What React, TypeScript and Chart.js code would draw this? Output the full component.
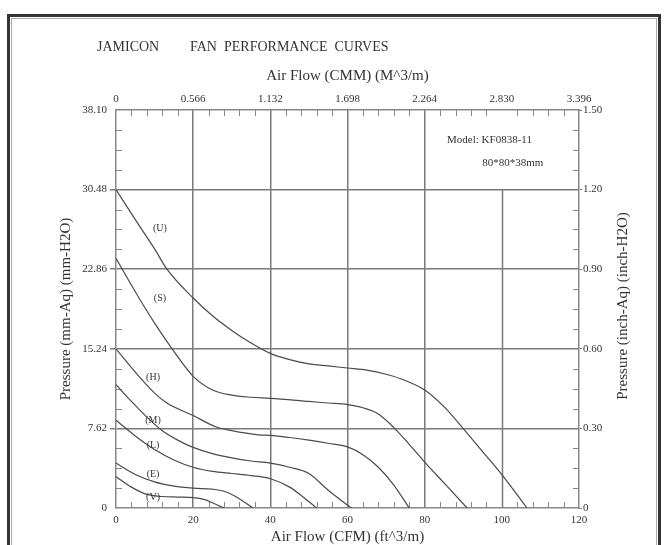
import React, { useEffect, useRef } from "react";
import { Chart, registerables } from "chart.js";
Chart.register(...registerables);

const FONT = '"Liberation Serif", "Times New Roman", serif';

// Axis tick labels
const cfmTicks = [0, 20, 40, 60, 80, 100, 120];
const cmmTicks = [0, 0.566, 1.132, 1.698, 2.264, 2.83, 3.396];
const mmTicks = [0, 7.62, 15.24, 22.86, 30.48, 38.1];
const inchTicks = [0, 0.3, 0.6, 0.9, 1.2, 1.5];

// Curves: airflow (CFM) and pressure (mm-H2O)
const flowU = [0, 5, 10, 13.2, 20, 25, 30, 35, 40, 45, 50, 55, 60, 65, 70, 75, 80, 85, 90, 95, 100, 106.5];
const presU = [30.48, 27.6, 24.8, 22.86, 20.1, 18.4, 17.0, 15.8, 14.8, 14.2, 13.8, 13.6, 13.4, 13.2, 12.8, 12.2, 11.3, 9.7, 7.6, 5.4, 3.2, 0];
const flowS = [0, 5, 10, 15, 20, 25, 30, 35, 40, 50, 55, 60, 64, 68, 72, 76, 80, 85, 91];
const presS = [23.9, 20.7, 17.7, 15.0, 12.6, 11.3, 10.8, 10.6, 10.5, 10.2, 10.05, 9.9, 9.6, 9.0, 7.7, 6.1, 4.4, 2.4, 0];
const flowH = [0, 5, 10, 13.2, 20, 26, 30, 37, 40, 45, 50, 55, 60, 64, 68, 72, 76];
const presH = [15.24, 13.0, 11.0, 10.05, 8.85, 7.75, 7.4, 7.0, 6.95, 6.75, 6.5, 6.2, 5.85, 5.1, 3.9, 2.2, 0];
const flowM = [0, 4, 8, 12, 16, 20, 25, 30, 35, 40, 45, 50, 55, 61];
const presM = [11.8, 10.2, 8.7, 7.4, 6.5, 5.8, 5.2, 4.8, 4.5, 4.3, 3.9, 3.3, 1.7, 0];
const flowL = [0, 5, 10, 15, 20, 25, 30, 35, 40, 45, 48, 52];
const presL = [8.4, 6.9, 5.6, 4.6, 3.9, 3.5, 3.3, 3.1, 2.8, 2.0, 1.2, 0];
const flowE = [0, 5, 10, 15, 20, 25, 28, 31, 35.5];
const presE = [4.3, 3.2, 2.5, 2.1, 1.9, 1.8, 1.6, 1.1, 0];
const flowV = [0, 4, 8, 12, 16, 20, 23, 25, 28];
const presV = [3.0, 2.0, 1.3, 1.1, 1.05, 1.0, 0.8, 0.5, 0];

const curveNames = ["U", "S", "H", "M", "L", "E", "V"];
const curveFlows = [flowU, flowS, flowH, flowM, flowL, flowE, flowV];
const curvePres = [presU, presS, presH, presM, presL, presE, presV];

// Curve label anchors (data units)
const labelTexts = ["(U)", "(S)", "(H)", "(M)", "(L)", "(E)", "(V)"];
const labelFlow = [11.4, 11.4, 9.6, 9.6, 9.6, 9.6, 9.6];
const labelPres = [26.8, 20.1, 12.5, 8.4, 6.0, 3.2, 1.05];

// Model note
const modelLines = ["Model: KF0838-11", "80*80*38mm"];
const modelFlow = [85.8, 94.9];
const modelPres = [35.2, 33.0];

const partialGridFlow = 100;
const partialGridTop = 30.48;

const GRID = "#7a7a7a";
const TEXT = "#333";

const decorPlugin = {
  id: "decor",
  beforeDraw(chart: any) {
    const { ctx, width, height } = chart;
    ctx.save();
    ctx.fillStyle = "#ffffff";
    ctx.fillRect(0, 0, width, height);
    ctx.restore();
  },
  beforeDatasetsDraw(chart: any) {
    const { ctx, scales } = chart;
    const x = scales.x, y = scales.y;
    ctx.save();
    ctx.strokeStyle = GRID;
    ctx.lineWidth = 1.5;
    const px = Math.round(x.getPixelForValue(partialGridFlow)) + 0.5;
    ctx.beginPath();
    ctx.moveTo(px, y.getPixelForValue(partialGridTop));
    ctx.lineTo(px, y.getPixelForValue(0));
    ctx.stroke();

    // minor ticks
    ctx.lineWidth = 1;
    ctx.strokeStyle = "#888";
    const L = 6;
    const top = y.getPixelForValue(y.max), bot = y.getPixelForValue(0);
    const left = x.getPixelForValue(0), right = x.getPixelForValue(x.max);
    for (let i = 0; i < cfmTicks.length - 1; i++) {
      const a = cfmTicks[i], b = cfmTicks[i + 1];
      for (let k = 1; k < 5; k++) {
        const p = Math.round(x.getPixelForValue(a + ((b - a) * k) / 5)) + 0.5;
        ctx.beginPath();
        ctx.moveTo(p, bot);
        ctx.lineTo(p, bot - L);
        ctx.moveTo(p, top);
        ctx.lineTo(p, top + L);
        ctx.stroke();
      }
    }
    for (let i = 0; i < mmTicks.length - 1; i++) {
      const a = mmTicks[i], b = mmTicks[i + 1];
      for (let k = 1; k < 4; k++) {
        const p = Math.round(y.getPixelForValue(a + ((b - a) * k) / 4)) + 0.5;
        ctx.beginPath();
        ctx.moveTo(left, p);
        ctx.lineTo(left + L, p);
        ctx.moveTo(right, p);
        ctx.lineTo(right - L, p);
        ctx.stroke();
      }
    }
    ctx.restore();
  },
  afterDraw(chart: any) {
    const { ctx, scales, chartArea } = chart;
    const x = scales.x, y = scales.y;
    ctx.save();
    ctx.fillStyle = TEXT;
    ctx.textBaseline = "middle";

    // curve labels
    ctx.font = `10px ${FONT}`;
    ctx.textAlign = "center";
    for (let i = 0; i < labelTexts.length; i++) {
      ctx.fillText(labelTexts[i], x.getPixelForValue(labelFlow[i]), y.getPixelForValue(labelPres[i]));
    }
    // model text
    ctx.font = `11px ${FONT}`;
    ctx.textAlign = "left";
    for (let i = 0; i < modelLines.length; i++) {
      ctx.fillText(modelLines[i], x.getPixelForValue(modelFlow[i]), y.getPixelForValue(modelPres[i]));
    }

    const cx = (chartArea.left + chartArea.right) / 2;
    const cy = (chartArea.top + chartArea.bottom) / 2;
    // headline
    ctx.font = `14px ${FONT}`;
    ctx.textAlign = "left";
    ctx.fillText("JAMICON", 97, 47);
    ctx.fillText("FAN  PERFORMANCE  CURVES", 190, 47);
    // axis titles
    ctx.font = `15px ${FONT}`;
    ctx.textAlign = "center";
    ctx.fillText("Air Flow (CMM) (M^3/m)", cx, 76);
    ctx.fillText("Air Flow (CFM) (ft^3/m)", cx, 537);
    ctx.save();
    ctx.translate(66, cy);
    ctx.rotate(-Math.PI / 2);
    ctx.fillText("Pressure (mm-Aq) (mm-H2O)", 0, 0);
    ctx.restore();
    ctx.save();
    ctx.translate(623, cy - 3);
    ctx.rotate(-Math.PI / 2);
    ctx.fillText("Pressure (inch-Aq) (inch-H2O)", 0, 0);
    ctx.restore();

    // frame
    ctx.strokeStyle = "#333";
    ctx.lineWidth = 3;
    ctx.strokeRect(8.5, 15.5, 651, 620);
    ctx.strokeStyle = "#aaa";
    ctx.lineWidth = 1;
    ctx.strokeRect(11.5, 18.5, 645, 620);
    ctx.restore();
  },
};

const fmt2 = (v: number) => (v === 0 ? "0" : v.toFixed(2));
const fmt3 = (v: number) => (v === 0 ? "0" : v.toFixed(3));

export default function App() {
  const ref = useRef<HTMLCanvasElement | null>(null);
  useEffect(() => {
    if (!ref.current) return;
    const datasets = curveNames.map((n, i) => ({
      label: n,
      data: curveFlows[i].map((f, j) => ({ x: f, y: curvePres[i][j] })),
      borderColor: "#4a4a4a",
      borderWidth: 1.2,
      pointRadius: 0,
      fill: false,
      cubicInterpolationMode: "monotone" as const,
      xAxisID: "x",
      yAxisID: "y",
    }));
    const tickFont = { family: FONT, size: 11 };
    const chart = new Chart(ref.current, {
      type: "line",
      data: { datasets },
      plugins: [decorPlugin],
      options: {
        responsive: false,
        animation: false,
        layout: { padding: 0 },
        plugins: { legend: { display: false }, title: { display: false }, tooltip: { enabled: false } },
        scales: {
          x: {
            type: "linear",
            position: "bottom",
            min: 0,
            max: 120,
            afterBuildTicks: (s: any) => { s.ticks = cfmTicks.map((v) => ({ value: v })); },
            afterFit: (s: any) => { s.height = 37; },
            grid: {
              drawTicks: false,
              lineWidth: 1.5,
              color: (c: any) => (c.tick && c.tick.value > 0 && c.tick.value < 100 ? GRID : "rgba(0,0,0,0)"),
            },
            border: { display: true, color: "#888", width: 1.5 },
            ticks: { font: tickFont, color: TEXT, padding: 6, maxRotation: 0, autoSkip: false, callback: (v: any) => String(v) },
          },
          x2: {
            type: "linear",
            position: "top",
            min: 0,
            max: 3.396,
            afterBuildTicks: (s: any) => { s.ticks = cmmTicks.map((v) => ({ value: v })); },
            afterFit: (s: any) => { s.height = 110; },
            grid: { drawOnChartArea: false, drawTicks: false },
            border: { display: true, color: "#888", width: 1.5 },
            ticks: { font: tickFont, color: TEXT, padding: 4, maxRotation: 0, autoSkip: false, callback: (v: any) => fmt3(Number(v)) },
          },
          y: {
            type: "linear",
            position: "left",
            min: 0,
            max: 38.1,
            afterBuildTicks: (s: any) => { s.ticks = mmTicks.map((v) => ({ value: v })); },
            afterFit: (s: any) => { s.width = 116; },
            grid: {
              drawTicks: true,
              tickLength: 6,
              lineWidth: 1.5,
              color: (c: any) => (c.tick && c.tick.value > 0 && c.tick.value < 38 ? GRID : "rgba(0,0,0,0)"),
              tickColor: (c: any) => (c.tick && c.tick.value > 0 && c.tick.value < 38 ? GRID : "rgba(0,0,0,0)"),
            },
            border: { display: true, color: "#888", width: 1.5 },
            ticks: { font: tickFont, color: TEXT, padding: 3, autoSkip: false, callback: (v: any) => fmt2(Number(v)) },
          },
          y2: {
            type: "linear",
            position: "right",
            min: 0,
            max: 1.5,
            afterBuildTicks: (s: any) => { s.ticks = inchTicks.map((v) => ({ value: v })); },
            afterFit: (s: any) => { s.width = 87; },
            grid: { drawOnChartArea: false, drawTicks: true, tickLength: 3, tickColor: GRID },
            border: { display: true, color: "#888", width: 1.5 },
            ticks: { font: tickFont, color: TEXT, padding: 1, autoSkip: false, callback: (v: any) => fmt2(Number(v)) },
          },
        },
      },
    } as any);
    return () => chart.destroy();
  }, []);
  return (
    <div style={{ position: "fixed", left: 0, top: 0, width: 666, height: 545, background: "#fff" }}>
      <canvas ref={ref} width={666} height={545} style={{ display: "block" }} />
    </div>
  );
}
